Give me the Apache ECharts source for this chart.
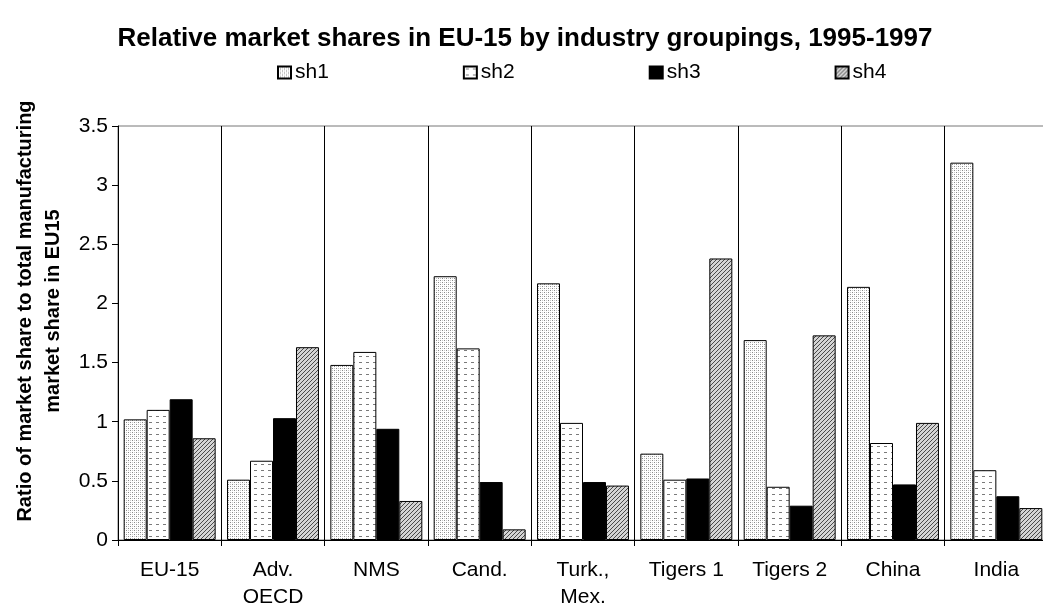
<!DOCTYPE html>
<html>
<head>
<meta charset="utf-8">
<script src="https://cdn.jsdelivr.net/npm/echarts@6/dist/echarts.min.js"></script>
<style>
  html, body { margin: 0; padding: 0; background: #fff; }
  #chart { width: 1043px; height: 611px; }
</style>
</head>
<body>
<div id="chart"></div>
<script>
const categories = ['EU-15', 'Adv.\nOECD', 'NMS', 'Cand.', 'Turk.,\nMex.', 'Tigers 1', 'Tigers 2', 'China', 'India']
const seriesNames = ['sh1', 'sh2', 'sh3', 'sh4']
const sh1 = [1.02, 0.51, 1.48, 2.23, 2.17, 0.73, 1.69, 2.14, 3.19]
const sh2 = [1.10, 0.67, 1.59, 1.62, 0.99, 0.51, 0.45, 0.82, 0.59]
const sh3 = [1.19, 1.03, 0.94, 0.49, 0.49, 0.52, 0.29, 0.47, 0.37]
const sh4 = [0.86, 1.63, 0.33, 0.09, 0.46, 2.38, 1.73, 0.99, 0.27]
const fontFamily = '"Liberation Sans", Arial, sans-serif'

// small canvas tiles used as fill patterns
function makeTile(w, h, paint) {
  let c = document.createElement('canvas')
  c.width = w
  c.height = h
  let ctx = c.getContext('2d')
  paint(ctx)
  return { image: c, repeat: 'repeat' }
}

// sh1: fine stipple
const dots = makeTile(4, 4, ctx => {
  ctx.fillStyle = '#fff'
  ctx.fillRect(0, 0, 4, 4)
  ctx.fillStyle = '#8a8a8a'
  ctx.fillRect(0, 0, 1, 1)
  ctx.fillRect(2, 2, 1, 1)
  ctx.fillStyle = '#c8c8c8'
  ctx.fillRect(2, 0, 1, 1)
  ctx.fillRect(0, 2, 1, 1)
})
// sh2: short horizontal dashes
const dashes = makeTile(7, 6, ctx => {
  ctx.fillStyle = '#fff'
  ctx.fillRect(0, 0, 7, 6)
  ctx.fillStyle = '#7a7a7a'
  ctx.fillRect(2, 2, 3, 1)
})
// sh4: diagonal hatch
const hatch = makeTile(4, 4, ctx => {
  ctx.fillStyle = '#d4d4d4'
  ctx.fillRect(0, 0, 4, 4)
  ctx.fillStyle = '#4a4a4a'
  for (let i = 0; i < 4; i++) {
    ctx.fillRect(3 - i, i, 1, 1)
  }
})
const fills = [dots, dashes, '#000', hatch]
const values = [sh1, sh2, sh3, sh4]

let myChart = echarts.init(document.getElementById('chart'))
let series = []
for (let i = 0; i < seriesNames.length; i++) {
  series.push({
    name: seriesNames[i],
    type: 'bar',
    data: values[i],
    barGap: '0%',
    barCategoryGap: '11%',
    itemStyle: { color: fills[i], borderColor: '#000', borderWidth: 1 }
  })
}

myChart.setOption({
  animation: false,
  textStyle: { fontFamily: fontFamily },
  title: {
    text: 'Relative market shares in EU-15 by industry groupings, 1995-1997',
    left: 520,
    textAlign: 'center',
    top: 21,
    textStyle: { fontSize: 26, fontWeight: 'bold', color: '#000', fontFamily: fontFamily }
  },
  legend: {
    data: seriesNames,
    left: 272,
    top: 57,
    itemWidth: 13,
    itemHeight: 12,
    itemGap: 134,
    icon: 'rect',
    textStyle: { fontSize: 21, color: '#000', padding: [0, 0, 0, -1] }
  },
  grid: {
    left: 118,
    right: -5,
    top: 126,
    bottom: 71,
    outerBoundsMode: 'none',
    show: true,
    borderColor: '#777',
    borderWidth: 1
  },
  xAxis: {
    type: 'category',
    data: categories,
    axisLine: { lineStyle: { color: '#000' } },
    axisTick: { show: true, length: 6, lineStyle: { color: '#000' } },
    splitLine: { show: true, lineStyle: { color: '#000' } },
    axisLabel: { fontSize: 21, color: '#000', lineHeight: 27, margin: 17, interval: 0 }
  },
  yAxis: {
    type: 'value',
    min: 0,
    max: 3.5,
    interval: 0.5,
    name: 'Ratio of market share to total manufacturing\nmarket share in EU15',
    nameLocation: 'middle',
    nameGap: 46,
    nameTextStyle: { fontSize: 20, fontWeight: 'bold', color: '#000', lineHeight: 28, padding: [0, 0, 0, 44] },
    axisLine: { show: true, lineStyle: { color: '#000' } },
    axisTick: { show: true, length: 6, lineStyle: { color: '#000' } },
    splitLine: { show: false },
    axisLabel: { fontSize: 21, color: '#000', margin: 10 }
  },
  series: series
})
</script>
</body>
</html>
